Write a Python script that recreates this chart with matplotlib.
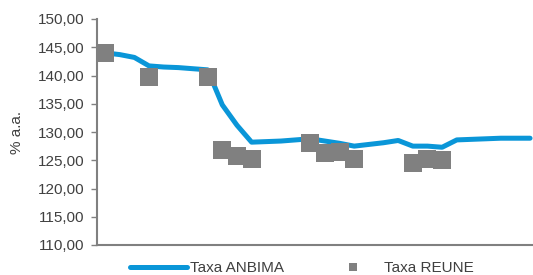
import matplotlib
matplotlib.use("Agg")
import matplotlib.pyplot as plt
from matplotlib.lines import Line2D
from matplotlib.ticker import FuncFormatter

# daily rates (% a.a.)
anbima = [144.0, 143.7, 143.2, 141.7, 141.5, 141.4, 141.2, 141.0, 134.8, 131.2,
          128.2, 128.3, 128.4, 128.6, 128.8, 128.4, 128.0, 127.5, 127.8, 128.1,
          128.5, 127.5, 127.5, 127.3, 128.6, 128.7, 128.8, 128.9, 128.9, 128.9]
reune_idx = [0, 3, 7, 8, 9, 10, 14, 15, 16, 17, 21, 22, 23]
reune = [144.0, 139.7, 139.7, 126.8, 125.7, 125.3, 128.0, 126.3, 126.5, 125.3,
         124.6, 125.2, 125.0]
yticks = [110, 115, 120, 125, 130, 135, 140, 145, 150]

blue = "#0A96D8"
grey = "#808080"
txt = "#404040"
plt.rcParams["font.family"] = ["Liberation Sans", "DejaVu Sans"]

fig = plt.figure(figsize=(5.33, 2.75), dpi=100)
ax = fig.add_axes([97 / 533, 30 / 275, 436 / 533, 226 / 275])

ax.plot(range(len(anbima)), anbima, color=blue, lw=3.6, solid_capstyle="round",
        solid_joinstyle="round", zorder=2)
ax.scatter(reune_idx, reune, marker="s", s=13.5 ** 2, color=grey, linewidths=0, zorder=3)

ax.set_xlim(-0.55, 29.2)
ax.set_ylim(110, 150)
ax.set_yticks(yticks)
ax.yaxis.set_major_formatter(FuncFormatter(lambda v, p: f"{v:.2f}".replace(".", ",")))
ax.set_xticks([])
ax.tick_params(axis="y", length=4.3, width=1, color=grey, labelcolor=txt,
               labelsize=11, pad=5)
for s in ["top", "right"]:
    ax.spines[s].set_visible(False)
for s in ["left", "bottom"]:
    ax.spines[s].set_color(grey)
    ax.spines[s].set_linewidth(1.5)
ax.set_ylabel("% a.a.", color=txt, fontsize=11)
ax.yaxis.set_label_coords(-0.168, 0.5)

handles = [Line2D([], [], color=blue, lw=3.6, solid_capstyle="round"),
           Line2D([], [], color=grey, marker="s", ls="none", markersize=6, markeredgewidth=0)]
fig.legend(handles, ["Taxa ANBIMA", "Taxa REUNE"], loc="center left",
           bbox_to_anchor=(130 / 533, 1 - 268 / 275), ncol=2, frameon=False,
           fontsize=11, labelcolor=txt, handlelength=3.7, handletextpad=0.2,
           columnspacing=2.7, borderpad=0, borderaxespad=0)

fig.savefig("out.png", dpi=100)
